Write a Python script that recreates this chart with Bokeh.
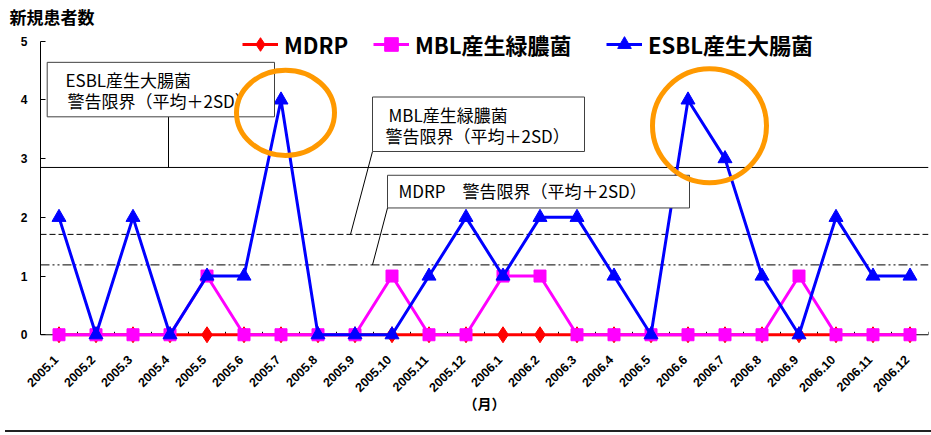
import math
from bokeh.plotting import figure
from bokeh.layouts import column
from bokeh.models import Range1d, FixedTicker, Span, Label, Legend, LegendItem, BoxAnnotation, Div
from bokeh.embed import file_html
from bokeh.resources import INLINE

# ---- data ----
months = ["2005.1", "2005.2", "2005.3", "2005.4", "2005.5", "2005.6",
          "2005.7", "2005.8", "2005.9", "2005.10", "2005.11", "2005.12",
          "2006.1", "2006.2", "2006.3", "2006.4", "2006.5", "2006.6",
          "2006.7", "2006.8", "2006.9", "2006.10", "2006.11", "2006.12"]
mdrp = [0, 0, 0, 0, 0, 0, 0, 0, 0, 0, 0, 0, 0, 0, 0, 0, 0, 0, 0, 0, 0, 0, 0, 0]
mbl = [0, 0, 0, 0, 1, 0, 0, 0, 0, 1, 0, 0, 1, 1, 0, 0, 0, 0, 0, 0, 1, 0, 0, 0]
esbl = [2, 0, 2, 0, 1, 1, 4, 0, 0, 0, 1, 2, 1, 2, 2, 1, 0, 4, 3, 1, 0, 2, 1, 1]
y_ticks = [0, 1, 2, 3, 4, 5]
limit_esbl = 2.85   # ESBL warning limit (mean + 2SD)
limit_mbl = 1.71    # MBL warning limit
limit_mdrp = 1.19   # MDRP warning limit

series_names = ["MDRP", "MBL産生緑膿菌", "ESBL産生大腸菌"]
box_texts = [["ESBL産生大腸菌", "警告限界（平均＋2SD）"],
             ["MBL産生緑膿菌", "警告限界（平均＋2SD）"],
             ["MDRP　警告限界（平均＋2SD）"]]

JP = "Noto Sans CJK JP"
LAT = "Liberation Sans"

xs = list(range(len(months)))
PXU = 59.26  # pixels per unit on the y axis

# reference-pixel -> data helpers for annotation placement
def X(px):
    return (px - 58.5) / 37.0

def Y(py):
    return (334.0 - py) / PXU

p = figure(width=931, height=425, output_backend="svg", toolbar_location=None,
           x_range=Range1d(-0.5, len(months) - 0.5), y_range=Range1d(-0.2, 5.2),
           min_border_left=40, min_border_right=3, min_border_top=26, min_border_bottom=79)
p.xgrid.visible = False
p.ygrid.visible = False
p.outline_line_color = None
p.background_fill_color = "white"
p.border_fill_color = "white"

# title
p.title.text = "新規患者数"
p.title.align = "left"
p.title.offset = -31
p.title.standoff = 2
p.title.text_font = JP
p.title.text_font_style = "bold"
p.title.text_font_size = "17px"
p.title.text_color = "black"

# y axis
p.yaxis.ticker = FixedTicker(ticks=y_ticks)
p.yaxis.bounds = (0, 5)
p.yaxis.major_tick_in = 5
p.yaxis.major_tick_out = 0
p.yaxis.minor_tick_line_color = None
p.yaxis.axis_line_color = "black"
p.yaxis.major_tick_line_color = "black"
p.yaxis.major_label_text_font = LAT
p.yaxis.major_label_text_font_style = "bold"
p.yaxis.major_label_text_font_size = "12px"
p.yaxis.major_label_text_color = "black"
p.yaxis.major_label_standoff = 13

# x axis (labels only; axis line and ticks drawn at y = 0 below)
label_shift = 0.08  # rotated labels end slightly left of the category centre
label_pos = [x - label_shift for x in xs]
p.xaxis.ticker = FixedTicker(ticks=label_pos)
p.xaxis.axis_line_color = None
p.xaxis.major_tick_line_color = None
p.xaxis.minor_tick_line_color = None
p.xaxis.major_tick_out = 0
p.xaxis.major_tick_in = 0
p.xaxis.major_label_overrides = {lp: m for lp, m in zip(label_pos, months)}
p.xaxis.major_label_orientation = math.pi / 4
p.xaxis.major_label_text_font = LAT
p.xaxis.major_label_text_font_style = "bold"
p.xaxis.major_label_text_font_size = "12.5px"
p.xaxis.major_label_text_color = "black"
p.xaxis.major_label_standoff = 11
p.xaxis.axis_label = "（月）"
p.xaxis.axis_label_text_font = JP
p.xaxis.axis_label_text_font_style = "bold"
p.xaxis.axis_label_text_font_size = "14px"
p.xaxis.axis_label_text_color = "black"
p.xaxis.axis_label_standoff = -6

# category boundary ticks on the zero line
bounds_x = [x - 0.5 for x in xs] + [xs[-1] + 0.5]
p.segment(x0=bounds_x, y0=[0] * len(bounds_x), x1=bounds_x, y1=[3 / PXU] * len(bounds_x),
          line_color="black", line_width=1)

# zero line and warning limit lines
p.add_layout(Span(location=0, dimension="width", line_color="black", line_width=1, level="underlay"))
p.add_layout(Span(location=limit_esbl, dimension="width", line_color="black", line_width=1, level="underlay"))
p.add_layout(Span(location=limit_mbl, dimension="width", line_color="black", line_width=1,
                  line_dash="6 3", level="underlay"))
p.add_layout(Span(location=limit_mdrp, dimension="width", line_color="black", line_width=1,
                  line_dash="9 3 2 3 2 3", level="underlay"))

# series
r1 = p.line(xs, mdrp, line_color="#FF0000", line_width=3)
s1 = p.scatter(xs, mdrp, marker="diamond", size=16, fill_color="#FF0000", line_color="#FF0000")
r2 = p.line(xs, mbl, line_color="#FF00FF", line_width=3)
s2 = p.scatter(xs, mbl, marker="square", size=12, fill_color="#FF00FF", line_color="#FF00FF")
r3 = p.line(xs, esbl, line_color="#0000FF", line_width=3)
s3 = p.scatter(xs, esbl, marker="triangle", size=14, fill_color="#0000FF", line_color="#0000FF")

# one legend per series so each entry sits where the reference puts it
legend_x = [202, 333, 566]
for name, rends, lx in zip(series_names, [[r1, s1], [r2, s2], [r3, s3]], legend_x):
    lg = Legend(items=[LegendItem(label=name, renderers=rends)],
                orientation="horizontal", location=(lx, 285),
                glyph_width=36, glyph_height=34, label_height=34, label_standoff=6,
                spacing=0, padding=0, margin=0,
                border_line_color=None, background_fill_alpha=0,
                label_text_font=JP, label_text_font_style="bold",
                label_text_font_size="22px", label_text_color="black")
    p.add_layout(lg)

# connector lines from boxes to limit lines
p.segment(x0=[X(168), X(372), X(387)], y0=[Y(114), Y(149), Y(206)],
          x1=[X(168), X(350), X(372)], y1=[limit_esbl, limit_mbl, limit_mdrp],
          line_color="black", line_width=1)

# annotation boxes
boxes = [(46.7, 274, 59, 114), (372, 584, 94, 149), (387, 689, 173, 206)]
for (l, r, t, b) in boxes:
    p.add_layout(BoxAnnotation(left=X(l), right=X(r), top=Y(t), bottom=Y(b),
                               fill_color="white", fill_alpha=1.0,
                               line_color="#404040", line_alpha=1.0, line_width=1))

text_pos = [[(65, 76), (67, 98)], [(388, 112), (385, 133)], [(398, 188)]]
for lines, poss in zip(box_texts, text_pos):
    for t, (tx, ty) in zip(lines, poss):
        p.add_layout(Label(x=X(tx), y=Y(ty), text=t, text_font=JP, text_font_size="17px",
                           text_color="black", text_baseline="middle", text_align="left"))

# orange highlight circles around the ESBL peaks
p.ellipse(x=[X(285), X(709)], y=[Y(110), Y(123)],
          width=[98 / 37.0, 114 / 37.0], height=[86 / PXU, 115 / PXU],
          fill_color=None, line_color="#FF9900", line_width=5, level="overlay")

rule = Div(text="", width=931, height=2, styles={"background-color": "#222222"})
rule2 = Div(text="", width=931, height=1, styles={"background-color": "#BBBBBB", "margin-top": "2px"})

layout = column(p, rule, rule2, spacing=0)
open("out.html", "w").write(file_html(layout, INLINE))
